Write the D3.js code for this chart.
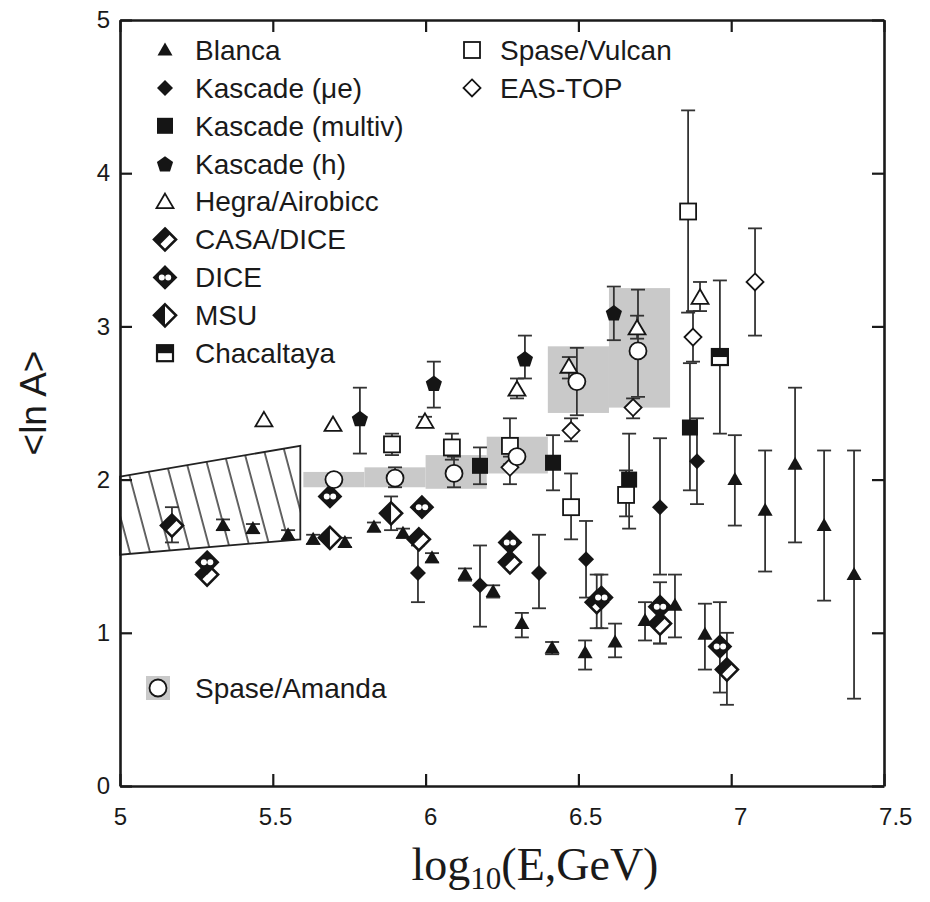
<!DOCTYPE html>
<html>
<head>
<meta charset="utf-8">
<script src="https://cdn.jsdelivr.net/npm/d3@7"></script>
<style>
  body { margin: 0; background: #ffffff; }
  svg { display: block; }
</style>
</head>
<body>
<svg id="chart" width="930" height="902"></svg>
<script>
// Mean logarithmic mass <ln A> versus energy.
// Each point: [log10(E/GeV), <ln A>, lower error, upper error]  (null = no bar)
const xTicks = [5, 5.5, 6, 6.5, 7, 7.5];
const yTicks = [0, 1, 2, 3, 4, 5];

const blanca = [
  [5.337, 1.70, 1.67, 1.74], [5.435, 1.68, 1.65, 1.71], [5.550, 1.64, 1.61, 1.67],
  [5.632, 1.61, 1.58, 1.64], [5.736, 1.59, 1.56, 1.62], [5.831, 1.69, 1.66, 1.72],
  [5.926, 1.65, 1.62, 1.68], [6.021, 1.49, 1.46, 1.52], [6.129, 1.38, 1.34, 1.42],
  [6.221, 1.27, 1.23, 1.31], [6.315, 1.06, 0.97, 1.13], [6.414, 0.90, 0.86, 0.94],
  [6.522, 0.87, 0.76, 0.95], [6.620, 0.94, 0.84, 1.06], [6.718, 1.08, 0.95, 1.20],
  [6.816, 1.18, 0.97, 1.38], [6.914, 0.99, 0.76, 1.19], [7.012, 2.00, 1.70, 2.29],
  [7.111, 1.80, 1.40, 2.19], [7.209, 2.10, 1.59, 2.60], [7.304, 1.70, 1.21, 2.19],
  [7.402, 1.38, 0.57, 2.19]
];
const kascadeMuE = [
  [5.975, 1.39, 1.20, 1.57], [6.178, 1.31, 1.04, 1.57], [6.371, 1.39, 1.16, 1.64],
  [6.525, 1.48, 1.23, 1.73], [6.767, 1.82, 1.38, 2.27], [6.888, 2.12, 1.84, 2.40]
];
const kascadeMultiv = [
  [6.178, 2.09, 1.97, 2.21], [6.417, 2.11, 1.93, 2.29],
  [6.666, 2.00, 1.68, 2.30], [6.865, 2.34, 1.93, 2.76]
];
const kascadeH = [
  [5.785, 2.40, 2.17, 2.60], [6.027, 2.63, 2.47, 2.77],
  [6.325, 2.79, 2.66, 2.94], [6.616, 3.09, 2.91, 3.26]
];
const hegraAirobicc = [
  [5.471, 2.39, null, null], [5.697, 2.36, null, null], [5.998, 2.38, 2.35, 2.41],
  [6.299, 2.59, 2.53, 2.66], [6.469, 2.74, 2.66, 2.80], [6.692, 2.99, 2.92, 3.07],
  [6.898, 3.19, 3.10, 3.29]
];
const casaDice = [
  [5.170, 1.70, 1.59, 1.82], [5.285, 1.38, null, null], [5.978, 1.61, null, null],
  [6.276, 1.46, null, null], [6.560, 1.20, 1.03, 1.38], [6.767, 1.06, 0.93, 1.20],
  [6.986, 0.76, 0.53, 1.00]
];
const dice = [
  [5.285, 1.46, null, null], [5.687, 1.89, null, null], [5.988, 1.82, null, null],
  [6.276, 1.59, null, null], [6.575, 1.23, 1.03, 1.38], [6.767, 1.17, 0.93, 1.33],
  [6.963, 0.91, 0.61, 1.20]
];
const msu = [
  [5.687, 1.62, null, null], [5.887, 1.78, 1.67, 1.89]
];
const chacaltaya = [
  [6.963, 2.80, 2.30, 3.30]
];
const spaseVulcan = [
  [5.890, 2.23, 2.16, 2.30], [6.086, 2.21, 2.13, 2.30], [6.276, 2.22, 2.10, 2.40],
  [6.476, 1.82, 1.61, 2.04], [6.656, 1.90, 1.76, 2.06], [6.859, 3.75, 3.09, 4.41]
];
const easTop = [
  [6.276, 2.08, 1.97, 2.15], [6.476, 2.32, 2.25, 2.40], [6.679, 2.47, 2.40, 2.53],
  [6.875, 2.93, 2.77, 3.10], [7.078, 3.29, 2.94, 3.64]
];
const spaseAmanda = [
  [5.700, 2.00, null, null], [5.900, 2.01, 1.95, 2.08], [6.093, 2.04, 1.95, 2.15],
  [6.299, 2.15, null, null], [6.495, 2.64, 2.42, 2.86], [6.695, 2.84, 2.54, 3.24]
];
// Spase/Amanda systematic bands: [x0, x1, y0, y1]
const spaseAmandaBands = [
  [5.6, 5.8, 1.95, 2.05], [5.8, 6.0, 1.95, 2.08], [6.0, 6.2, 1.94, 2.16],
  [6.2, 6.4, 2.04, 2.28], [6.4, 6.6, 2.435, 2.87], [6.6, 6.8, 2.47, 3.25]
];
// Hatched region at low energy: polygon corners [x, y]
const hatchRegion = [[5.0, 2.02], [5.59, 2.22], [5.59, 1.61], [5.0, 1.51]];

const legendLeft = [
  ["Blanca", "triFill"], ["Kascade (\u03bce)", "diaFill"], ["Kascade (multiv)", "sqFill"],
  ["Kascade (h)", "pentFill"], ["Hegra/Airobicc", "triOpen"], ["CASA/DICE", "casa"],
  ["DICE", "dice"], ["MSU", "msu"], ["Chacaltaya", "chac"]
];
const legendRight = [["Spase/Vulcan", "sqOpen"], ["EAS-TOP", "diaOpen"]];

const series = [
  [blanca, "triFill"], [kascadeMuE, "diaFill"], [kascadeMultiv, "sqFill"],
  [kascadeH, "pentFill"], [hegraAirobicc, "triOpen"], [spaseVulcan, "sqOpen"],
  [easTop, "diaOpen"], [chacaltaya, "chac"], [casaDice, "casa"], [dice, "dice"],
  [msu, "msu"], [spaseAmanda, "circOpen"]
];

const INK = "#151515";
const BAR = "#333333";

const svg = d3.select("#chart");
svg.append("rect").attr("width", 930).attr("height", 902).attr("fill", "#ffffff");

const x = d3.scaleLinear().domain([5, 7.5]).range([120, 884]);
const y = d3.scaleLinear().domain([0, 5]).range([786, 20]);

// hatch pattern
const defs = svg.append("defs");
const pat = defs.append("pattern")
  .attr("id", "hatch").attr("patternUnits", "userSpaceOnUse")
  .attr("width", 19.5).attr("height", 40)
  .attr("patternTransform", "rotate(-15)");
pat.append("line").attr("x1", 2).attr("y1", -5).attr("x2", 2).attr("y2", 45)
  .attr("stroke", "#222").attr("stroke-width", 1.4);

const line = d3.line().x(d => x(d[0])).y(d => y(d[1]));
svg.append("path")
  .attr("d", line(hatchRegion) + "Z")
  .attr("fill", "url(#hatch)")
  .attr("stroke", "#222").attr("stroke-width", 1.8);

// Spase/Amanda bands
svg.append("g").selectAll("rect").data(spaseAmandaBands).join("rect")
  .attr("x", d => x(d[0])).attr("width", d => x(d[1]) - x(d[0]))
  .attr("y", d => y(d[3])).attr("height", d => y(d[2]) - y(d[3]))
  .attr("fill", "#c9c9c9");

// marker shapes
function poly(pts) { return "M" + pts.map(p => p.join(",")).join("L") + "Z"; }
function drawMarker(g, type, cx, cy) {
  switch (type) {
    case "triFill":
      g.append("path").attr("d", poly([[cx, cy - 7.5], [cx + 7.5, cy + 5.5], [cx - 7.5, cy + 5.5]])).attr("fill", INK);
      break;
    case "triOpen":
      g.append("path").attr("d", poly([[cx, cy - 8], [cx + 8.5, cy + 6.5], [cx - 8.5, cy + 6.5]]))
        .attr("fill", "#fff").attr("stroke", INK).attr("stroke-width", 1.8);
      break;
    case "diaFill":
      g.append("path").attr("d", poly([[cx, cy - 8], [cx + 8, cy], [cx, cy + 8], [cx - 8, cy]])).attr("fill", INK);
      break;
    case "diaOpen":
      g.append("path").attr("d", poly([[cx, cy - 8.5], [cx + 8.5, cy], [cx, cy + 8.5], [cx - 8.5, cy]]))
        .attr("fill", "#fff").attr("stroke", INK).attr("stroke-width", 1.8);
      break;
    case "sqFill":
      g.append("rect").attr("x", cx - 8).attr("y", cy - 8).attr("width", 16).attr("height", 16).attr("fill", INK);
      break;
    case "sqOpen":
      g.append("rect").attr("x", cx - 8).attr("y", cy - 8).attr("width", 16).attr("height", 16)
        .attr("fill", "#fff").attr("stroke", INK).attr("stroke-width", 1.8);
      break;
    case "chac":
      g.append("rect").attr("x", cx - 8).attr("y", cy - 8).attr("width", 16).attr("height", 16)
        .attr("fill", "#fff").attr("stroke", INK).attr("stroke-width", 2.2);
      g.append("rect").attr("x", cx - 8).attr("y", cy - 8).attr("width", 16).attr("height", 8).attr("fill", INK);
      break;
    case "pentFill": {
      const pts = d3.range(5).map(i => {
        const a = -Math.PI / 2 + i * 2 * Math.PI / 5;
        return [cx + 8.5 * Math.cos(a), cy + 8.5 * Math.sin(a) + 1];
      });
      g.append("path").attr("d", poly(pts)).attr("fill", INK);
      break;
    }
    case "circOpen":
      g.append("circle").attr("cx", cx).attr("cy", cy).attr("r", 8.5)
        .attr("fill", "#fff").attr("stroke", INK).attr("stroke-width", 1.8);
      break;
    case "casa": {
      const h = 11;
      g.append("path").attr("d", poly([[cx, cy - h], [cx + h, cy], [cx, cy + h], [cx - h, cy]]))
        .attr("fill", "#fff").attr("stroke", INK).attr("stroke-width", 2.6);
      g.append("path").attr("d", poly([[cx - h, cy], [cx, cy - h], [cx + h / 2, cy - h / 2], [cx - h / 2, cy + h / 2]]))
        .attr("fill", INK);
      break;
    }
    case "dice": {
      const h = 11;
      g.append("path").attr("d", poly([[cx, cy - h], [cx + h, cy], [cx, cy + h], [cx - h, cy]]))
        .attr("fill", INK).attr("stroke", INK).attr("stroke-width", 2);
      g.append("circle").attr("cx", cx - 3.2).attr("cy", cy).attr("r", 3).attr("fill", "#fff");
      g.append("circle").attr("cx", cx + 3.2).attr("cy", cy).attr("r", 3).attr("fill", "#fff");
      break;
    }
    case "msu": {
      const h = 11;
      g.append("path").attr("d", poly([[cx, cy - h], [cx + h, cy], [cx, cy + h], [cx - h, cy]]))
        .attr("fill", "#fff").attr("stroke", INK).attr("stroke-width", 2.6);
      g.append("path").attr("d", poly([[cx, cy - h], [cx, cy + h], [cx - h, cy]])).attr("fill", INK);
      break;
    }
  }
}

// error bars
const bars = svg.append("g").attr("stroke", BAR).attr("stroke-width", 1.8).attr("fill", "none");
series.forEach(([data]) => {
  data.filter(d => d[2] !== null).forEach(d => {
    const cx = x(d[0]);
    bars.append("line").attr("x1", cx).attr("x2", cx).attr("y1", y(d[2])).attr("y2", y(d[3]));
    [d[2], d[3]].forEach(v => bars.append("line")
      .attr("x1", cx - 7).attr("x2", cx + 7).attr("y1", y(v)).attr("y2", y(v)));
  });
});

// markers
const marks = svg.append("g");
series.forEach(([data, type]) => {
  data.forEach(d => drawMarker(marks, type, x(d[0]), y(d[1])));
});

// axes: labelled bottom/left, bare top/right, all ticks inward
const fmt = d3.format("");
const axB = svg.append("g").attr("transform", `translate(0,${y(0)})`)
  .call(d3.axisBottom(x).tickValues(xTicks).tickSizeInner(-12).tickSizeOuter(0).tickPadding(22).tickFormat(fmt));
const axT = svg.append("g").attr("transform", `translate(0,${y(5)})`)
  .call(d3.axisTop(x).tickValues(xTicks).tickSizeInner(-12).tickSizeOuter(0).tickFormat(""));
const axL = svg.append("g").attr("transform", `translate(${x(5)},0)`)
  .call(d3.axisLeft(y).tickValues(yTicks).tickSizeInner(-12).tickSizeOuter(0).tickPadding(10).tickFormat(fmt));
const axR = svg.append("g").attr("transform", `translate(${x(7.5)},0)`)
  .call(d3.axisRight(y).tickValues(yTicks).tickSizeInner(-12).tickSizeOuter(0).tickFormat(""));
[axB, axT, axL, axR].forEach(a => {
  a.select(".domain").attr("stroke", "#1a1a1a").attr("stroke-width", 2.6);
  a.selectAll(".tick line").attr("stroke", "#1a1a1a").attr("stroke-width", 2.2);
  a.selectAll("text").attr("font-family", "Liberation Sans, Arial, sans-serif")
    .attr("font-size", 24).attr("fill", "#1a1a1a");
});
axB.selectAll(".tick text").attr("dx", d => (d - 5) * 4.5);

// axis titles
svg.append("text")
  .attr("transform", `translate(46,${(y(0) + y(5)) / 2}) rotate(-90)`)
  .attr("text-anchor", "middle")
  .attr("font-family", "Liberation Sans, Arial, sans-serif")
  .attr("font-size", 37).attr("fill", "#1a1a1a")
  .text("<ln A>");
const xt = svg.append("text")
  .attr("x", 535).attr("y", 880).attr("text-anchor", "middle")
  .attr("font-family", "Liberation Serif, Times New Roman, serif")
  .attr("font-size", 46).attr("fill", "#1a1a1a");
xt.append("tspan").text("log");
xt.append("tspan").attr("font-size", 31).attr("dy", 9).text("10");
xt.append("tspan").attr("dy", -9).text("(E,GeV)");

// legend
const leg = svg.append("g");
const legFont = { "font-family": "Liberation Sans, Arial, sans-serif", "font-size": 28, "fill": "#1a1a1a" };
function legendRow(cx, tx, cy, label, type) {
  drawMarker(leg, type, cx, cy);
  const t = leg.append("text").attr("x", tx).attr("y", cy).attr("dy", "0.35em").text(label);
  Object.entries(legFont).forEach(([k, v]) => t.attr(k, v));
}
legendLeft.forEach(([label, type], i) => legendRow(165, 195, 50 + i * 37.9, label, type));
legendRight.forEach(([label, type], i) => legendRow(472, 500, 50 + i * 37.9, label, type));
// Spase/Amanda legend entry: band swatch with circle
leg.append("rect").attr("x", 146).attr("y", 676).attr("width", 24).attr("height", 24).attr("fill", "#c9c9c9");
drawMarker(leg, "circOpen", 158, 688);
legendRow(-100, 195, 688, "Spase/Amanda", null);
</script>
</body>
</html>
